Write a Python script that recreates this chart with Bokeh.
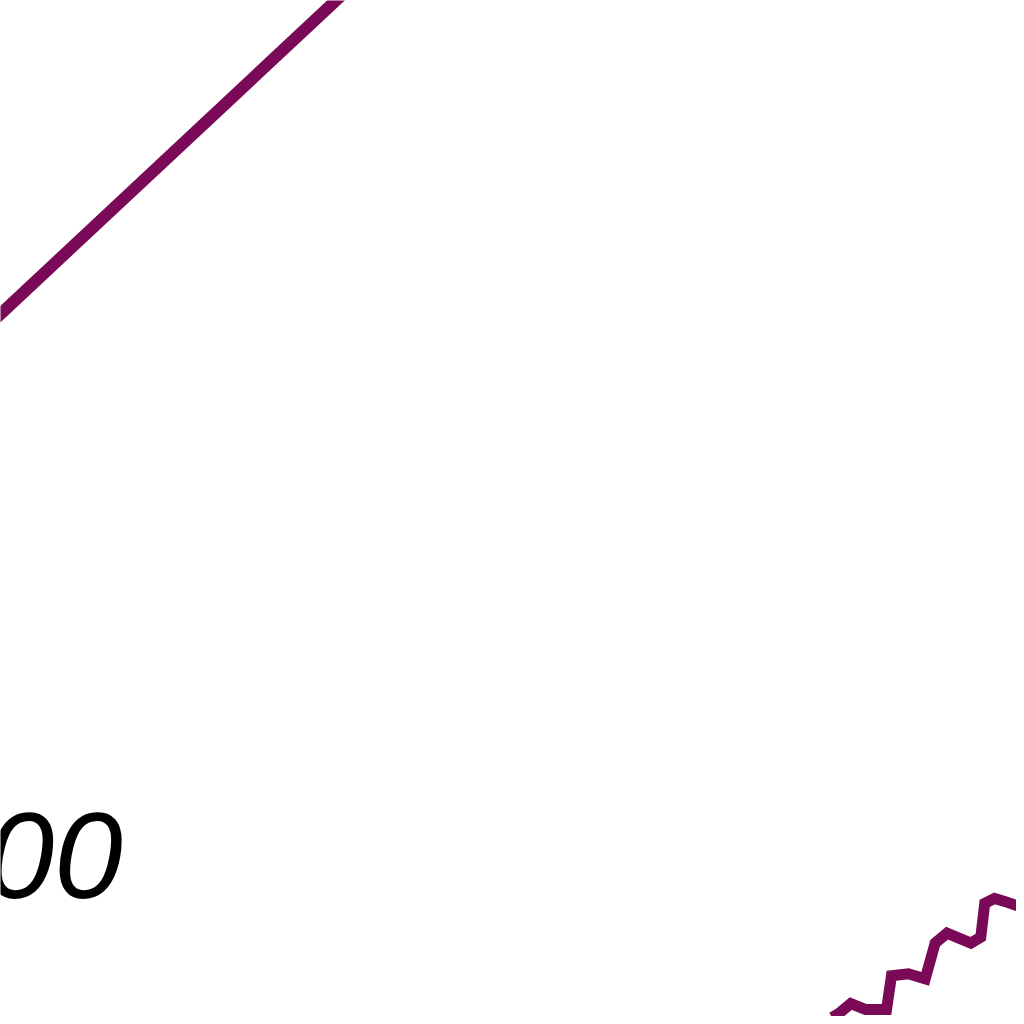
from bokeh.plotting import figure
from bokeh.models import Range1d
from bokeh.core.properties import value
from bokeh.embed import file_html
from bokeh.resources import INLINE

# Diagonal series (crop coordinates, y measured downward)
diag_x = [-12, 0, 338, 350]
diag_y = [327, 316, 0, -11]

# Stepped series
step_x = [838, 845, 857, 872, 893, 898, 915, 932, 942, 954, 966, 978, 988, 992, 1002, 1012, 1024, 1034]
step_y = [1025, 1021, 1011, 1017, 1017, 983, 981, 986, 950, 940, 945, 950, 944, 910, 905, 908, 912, 914]

# Tick-label fragment
label_text = ["00"]
label_x = [123]
label_y = [862]

COLOR = "#7a0a58"

p = figure(width=1016, height=1016, output_backend="svg", toolbar_location=None,
           x_range=Range1d(0, 1024), y_range=Range1d(1024, 0),
           min_border=0, background_fill_color="white", border_fill_color="white")
p.axis.visible = False
p.grid.visible = False
p.outline_line_color = None

p.line(diag_x, diag_y, line_color=COLOR, line_width=12)
p.line(step_x, step_y, line_color=COLOR, line_width=11, line_join="miter")
p.text(x=label_x, y=label_y, text=label_text, text_font=value("Liberation Sans"),
       text_font_style="italic", text_font_size="123px", text_color="black",
       text_align="right", text_baseline="alphabetic")

open("out.html", "w").write(file_html(p, INLINE))
